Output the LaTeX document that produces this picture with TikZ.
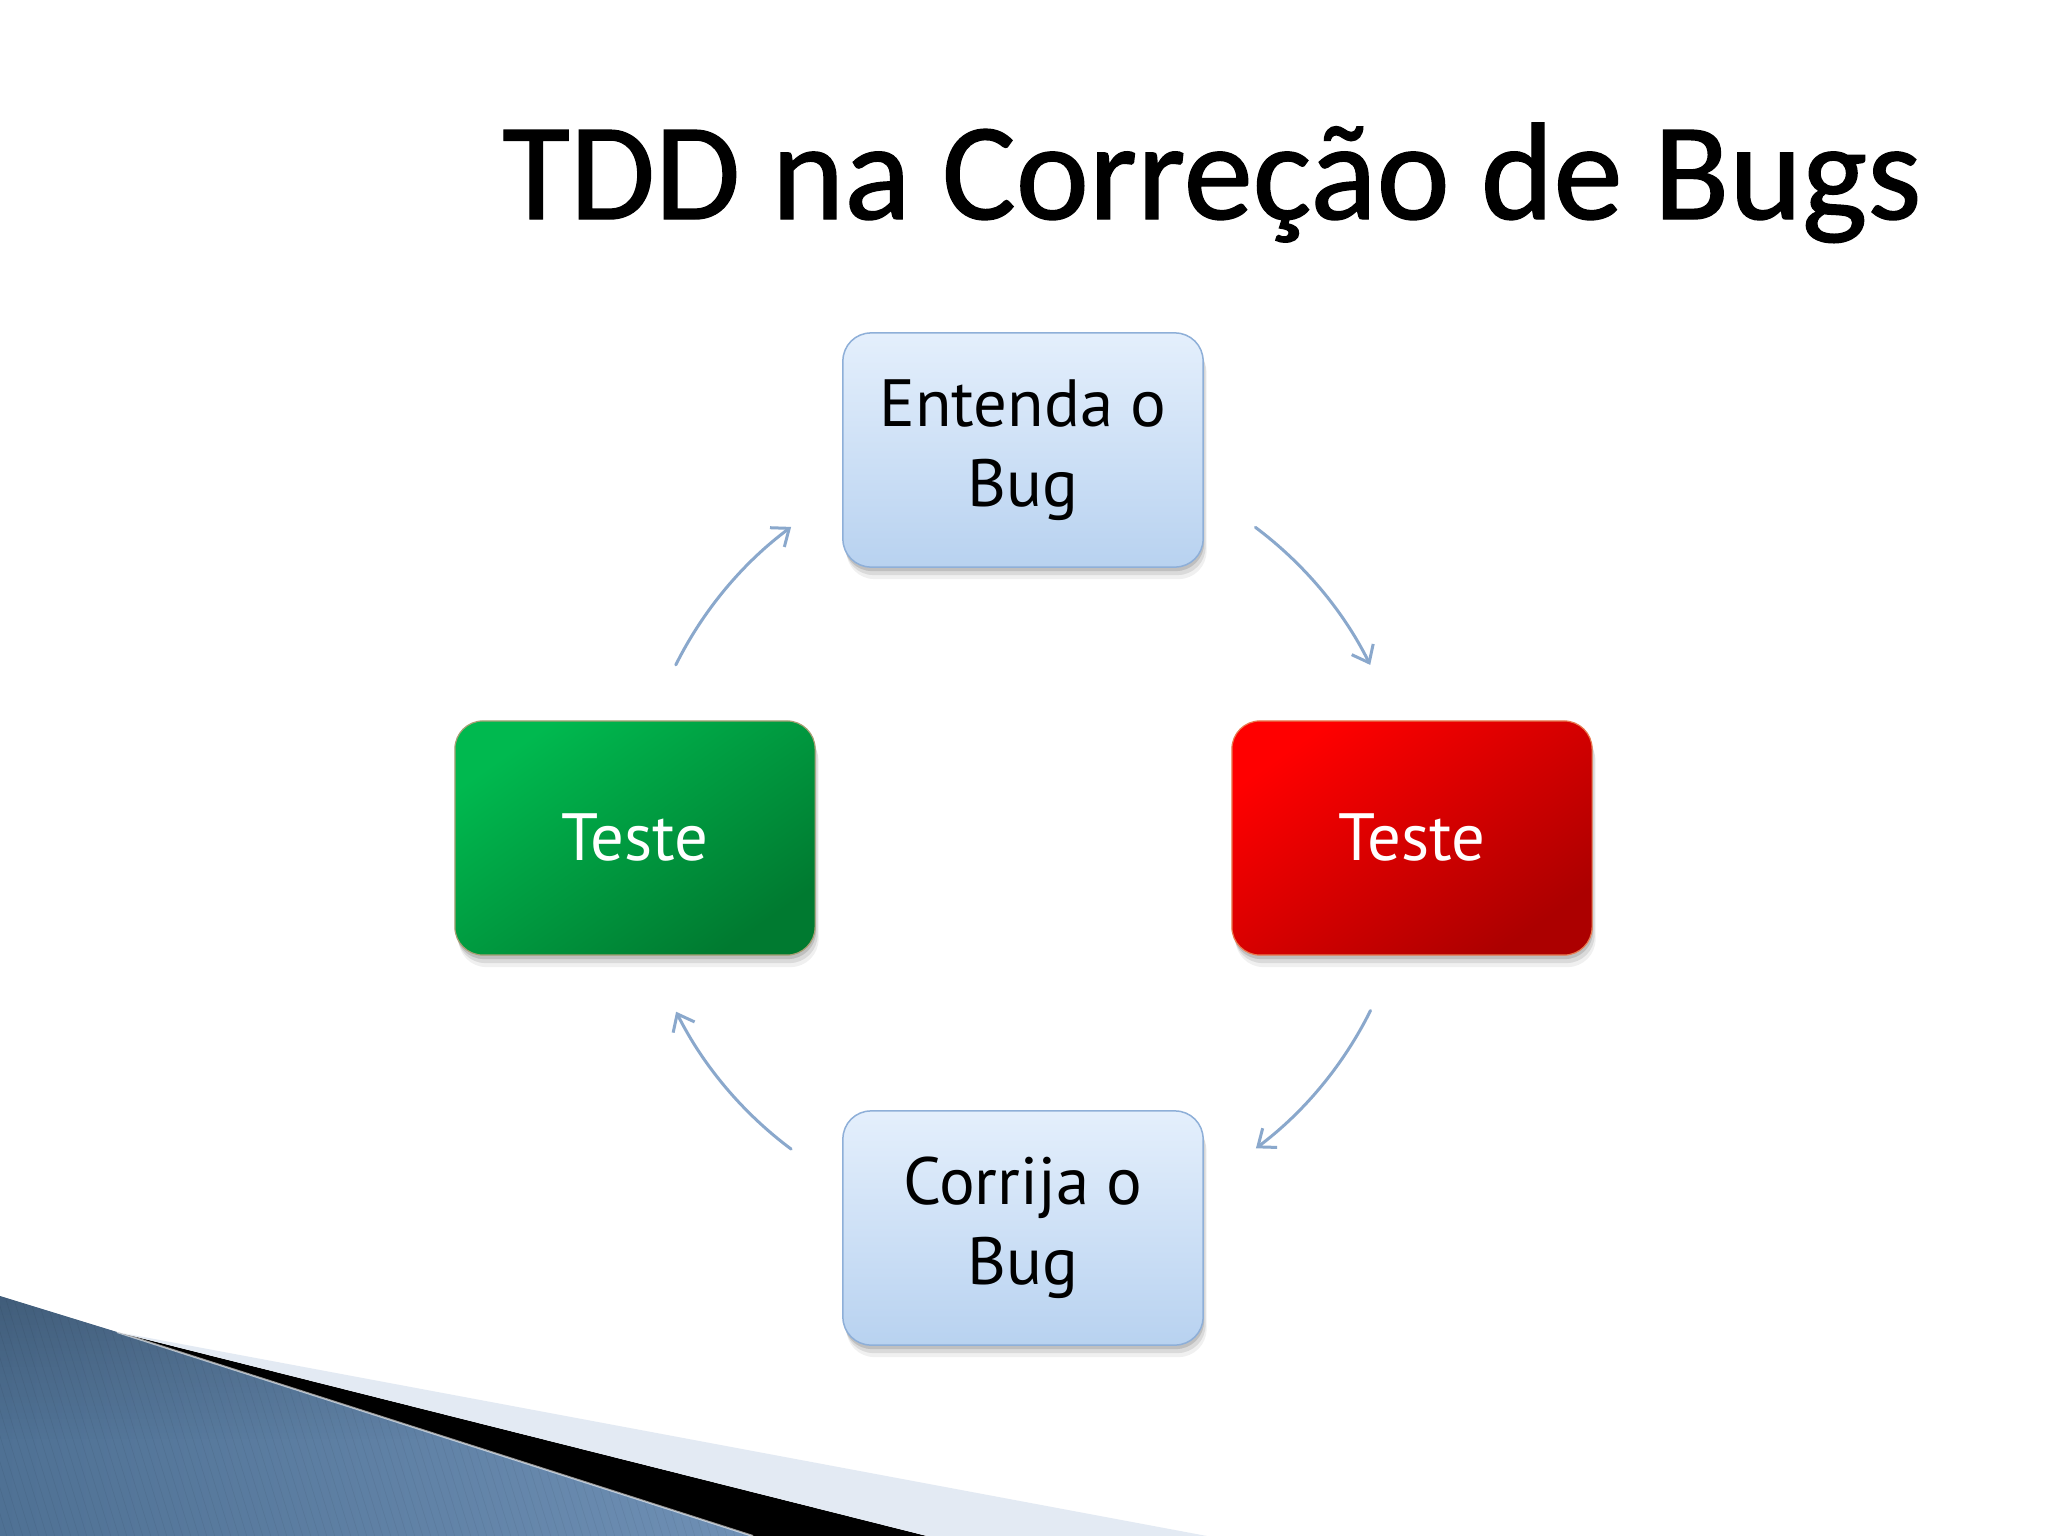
\documentclass[tikz,border=0pt]{standalone}
\usepackage{fontspec}
\usetikzlibrary{arrows.meta,calc,fadings}
\newfontfamily\titlefont[FakeBold=1]{Carlito}
\newfontfamily\boxfont{PT Sans}
\definecolor{arrowc}{HTML}{8AA8CC}
\definecolor{bluetop}{HTML}{E4EFFC}
\definecolor{bluebot}{HTML}{B8D2F0}
\definecolor{bluebd}{HTML}{8EAFD8}
\definecolor{greentop}{HTML}{00B94F}
\definecolor{greenbot}{HTML}{007A30}
\definecolor{greenbd}{HTML}{A89F74}
\definecolor{redtop}{HTML}{FF0000}
\definecolor{redbot}{HTML}{AC0000}
\definecolor{redbd}{HTML}{E87A50}
\definecolor{decoL}{HTML}{4F7194}
\definecolor{decoM}{HTML}{A2C3E6}
\definecolor{decoR}{HTML}{6F90B5}
\definecolor{decoband}{HTML}{E3EAF3}
\tikzset{
  card/.style={rounded corners=0.28cm, minimum width=3.6cm, minimum height=2.34cm,
    inner sep=0pt, align=center, font=\boxfont\fontsize{19}{22.7}\selectfont,
    preaction={fill=black, opacity=0.06, transform canvas={xshift=0.035cm, yshift=-0.12cm}},
    preaction={fill=black, opacity=0.09, transform canvas={xshift=0.025cm, yshift=-0.08cm}},
    preaction={fill=black, opacity=0.12, transform canvas={xshift=0.01cm, yshift=-0.04cm}}},
  bluecard/.style={card, draw=bluebd, line width=0.015cm, top color=bluetop, bottom color=bluebot, text=black},
  greencard/.style={card, draw=greenbd, line width=0.012cm, top color=greentop, bottom color=greenbot, shading angle=35, text=white},
  redcard/.style={card, draw=redbd, line width=0.012cm, top color=redtop, bottom color=redbot, shading angle=35, text=white},
  cyc/.style={draw=arrowc, line width=0.03cm, line cap=round, -{Straight Barb[length=0.15cm,width=0.24cm,line width=0.03cm]}},
  titletext/.style={font=\titlefont\fontsize{39.4}{46}\selectfont, inner sep=0pt, anchor=base}
}
\begin{document}
\begin{tikzpicture}[x=0.01cm,y=-0.01cm]
\useasboundingbox (0,0) rectangle (2048,1536);
\fill[white] (0,0) rectangle (2048,1536);

% bottom-left decoration
\begin{scope}
  \clip (0,1296) -- (117,1332) -- (753,1536) -- (0,1536) -- cycle;
  \shade[left color=decoL, middle color=decoM, right color=decoR] (0,1290) rectangle (760,1536);
  \fill[black, path fading=south, opacity=0.18] (0,1290) rectangle (760,1440);
  \foreach \k in {-30,...,100} \draw[black, opacity=0.07, line width=0.005cm] (\k*8,1280) -- ++(80,260);
\end{scope}
\fill[black] (117,1332) -- (927,1536) -- (753,1536) -- cycle;
\fill[decoband] (117,1332) -- (1207,1536) -- (927,1536) -- cycle;
\draw[white, opacity=0.6, line width=0.02cm] (117,1332) -- (753,1536);

% title
\node[titletext] (title) at (1212,219) {TDD na Correção de Bugs};

% boxes
\node[bluecard]  (top)    at (1023,450)  {Entenda o\\Bug};
\node[greencard] (left)   at (635,838)   {Teste};
\node[redcard]   (right)  at (1412,838)  {Teste};
\node[bluecard]  (bottom) at (1023,1228) {Corrija o\\Bug};

% cycle arrows
\coordinate (c) at (1023,838);
\coordinate (a1) at ($(c)+(206.5:388)$);
\coordinate (a2) at ($(c)+(306.8:388)$);
\coordinate (a3) at ($(c)+(26.4:388)$);
\coordinate (a4) at ($(c)+(126.7:388)$);
\draw[cyc] (a1) arc[start angle=206.5, end angle=233.3, radius=388];
\draw[cyc] (a2) arc[start angle=306.8, end angle=333.5, radius=388];
\draw[cyc] (a3) arc[start angle=26.4, end angle=53.1, radius=388];
\draw[cyc] (a4) arc[start angle=126.7, end angle=153.4, radius=388];
\end{tikzpicture}
\end{document}
